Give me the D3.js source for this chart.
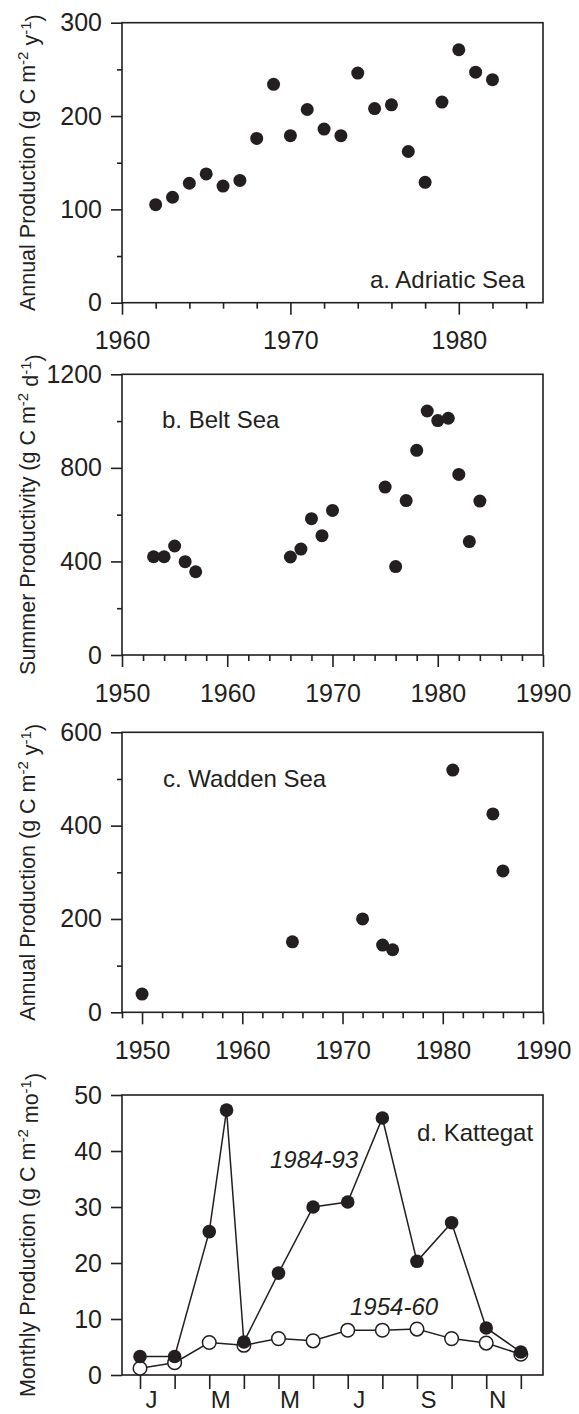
<!DOCTYPE html>
<html>
<head>
<meta charset="utf-8">
<script src="https://cdn.jsdelivr.net/npm/d3@7"></script>
<style>
  html, body { margin: 0; padding: 0; background: #fff; }
  svg { display: block; }
  text { font-family: "Liberation Sans", Arial, Helvetica, sans-serif; fill: #231f20; }
</style>
</head>
<body>
<svg id="chart" width="579" height="1414"></svg>
<script>
// ---- Panel a: Adriatic Sea, annual production
const yearsA = [1962,1963,1964,1965,1966,1967,1968,1969,1970,1971,1972,1973,1974,1975,1976,1977,1978,1979,1980,1981,1982];
const prodA  = [105,113,128,138,125,131,176,234,179,207,186,179,246,208,212,162,129,215,271,247,239];

// ---- Panel b: Belt Sea, summer productivity
const yearsB = [1953,1954,1955,1956,1957,1966,1967,1968,1969,1970,1975,1976,1977,1978,1979,1980,1981,1982,1983,1984];
const prodB  = [420,420,466,399,356,419,453,583,510,618,718,378,660,875,1043,1002,1012,772,485,658];

// ---- Panel c: Wadden Sea, annual production
const yearsC = [1950,1965,1972,1974,1975,1981,1985,1986];
const prodC  = [39,151,200,144,134,519,425,303];

// ---- Panel d: Kattegat, monthly production
const monthsRecent = [1,2,3,3.5,4,5,6,7,8,9,10,11,12];
const prodRecent   = [3.3,3.3,25.6,47.3,5.9,18.2,30.0,30.9,45.9,20.3,27.2,8.4,4.1];
const monthsEarly  = [1,2,3,4,5,6,7,8,9,10,11,12];
const prodEarly    = [1.2,2.2,5.8,5.3,6.5,6.1,8.0,8.0,8.2,6.5,5.7,3.7];
const monthTicks   = [1,2,3,4,5,6,7,8,9,10,11,12];
const monthLabels  = ["J","","M","","M","","J","","S","","N",""];

// ---- Tick values
const ticksAY = [0,100,200,300],      minorAY = [50,150,250];
const ticksBY = [0,400,800,1200],     minorBY = [200,600,1000];
const ticksCY = [0,200,400,600],      minorCY = [100,300,500];
const ticksDY = [0,10,20,30,40,50];
const ticksAX = [1960,1970,1980],     minorAX = d3.range(1962,1985,2).filter(v => v % 10);
const ticksBX = [1950,1960,1970,1980,1990], minorBX = d3.range(1952,1990,2).filter(v => v % 10);
const ticksCX = [1950,1960,1970,1980,1990], minorCX = d3.range(1948,1990,2).filter(v => v % 10);

const INK = "#231f20";
const svg = d3.select("#chart");
const left = 122, right = 543;

function title(g, cy, main, unit) {
  const t = g.append("text")
    .attr("transform", `translate(35,${cy}) rotate(-90)`)
    .attr("text-anchor", "middle")
    .style("font-size", "21.5px");
  t.append("tspan").text(main + " (g C m");
  t.append("tspan").attr("dy", "-0.45em").style("font-size", "15px").text("-2");
  t.append("tspan").attr("dy", "0.45em").text(" " + unit);
  t.append("tspan").attr("dy", "-0.45em").style("font-size", "15px").text("-1");
  t.append("tspan").attr("dy", "0.45em").text(")");
}

function styleAxis(g, size) {
  g.select(".domain").remove();
  g.selectAll("line").attr("stroke", INK).attr("stroke-width", 1.6);
  g.selectAll("text").style("font-size", (size || 25) + "px").attr("fill", INK)
    .style("font-family", '"Liberation Sans", Arial, Helvetica, sans-serif');
}

function panel(cfg) {
  const g = svg.append("g");
  const x = d3.scaleLinear().domain(cfg.xDomain).range([left, right]);
  const y = d3.scaleLinear().domain(cfg.yDomain).range([cfg.bottom, cfg.top]);

  // y axis: major and minor ticks
  g.append("g").attr("transform", `translate(${left},0)`)
    .call(d3.axisLeft(y).tickValues(cfg.yTicks).tickSize(11).tickPadding(9).tickFormat(d3.format("d")))
    .call(styleAxis);
  if (cfg.yMinor) {
    g.append("g").attr("transform", `translate(${left},0)`)
      .call(d3.axisLeft(y).tickValues(cfg.yMinor).tickSize(5).tickFormat(""))
      .call(styleAxis);
  }
  // x axis: major and minor ticks
  if (cfg.xTicks) {
    g.append("g").attr("transform", `translate(0,${cfg.bottom})`)
      .call(d3.axisBottom(x).tickValues(cfg.xTicks).tickSize(12).tickPadding(17).tickFormat(d3.format("d")))
      .call(styleAxis);
    g.append("g").attr("transform", `translate(0,${cfg.bottom})`)
      .call(d3.axisBottom(x).tickValues(cfg.xMinor).tickSize(6).tickFormat(""))
      .call(styleAxis);
  }

  // plot frame
  g.append("rect")
    .attr("x", left).attr("y", cfg.top)
    .attr("width", right - left).attr("height", cfg.bottom - cfg.top)
    .attr("fill", "none").attr("stroke", INK).attr("stroke-width", 1.6);

  title(g, (cfg.top + cfg.bottom) / 2, cfg.title, cfg.unit);
  return { g, x, y };
}

function scatter(p, xs, ys) {
  p.g.append("g").selectAll("circle")
    .data(xs.map((d, i) => [d, ys[i]]))
    .join("circle")
    .attr("cx", d => p.x(d[0])).attr("cy", d => p.y(d[1]))
    .attr("r", 6.5).attr("fill", INK);
}

function label(p, x, y, txt, italic) {
  p.g.append("text").attr("x", x).attr("y", y)
    .style("font-size", "24px")
    .style("font-style", italic ? "italic" : "normal")
    .text(txt);
}

// a. Adriatic Sea
const pa = panel({ xDomain: [1960, 1985], yDomain: [0, 300], top: 22.7, bottom: 302.7,
  yTicks: ticksAY, yMinor: minorAY, xTicks: ticksAX, xMinor: minorAX,
  title: "Annual Production", unit: "y" });
scatter(pa, yearsA, prodA);
label(pa, 370, 288, "a. Adriatic Sea");

// b. Belt Sea
const pb = panel({ xDomain: [1950, 1990], yDomain: [0, 1200], top: 374.3, bottom: 655,
  yTicks: ticksBY, yMinor: minorBY, xTicks: ticksBX, xMinor: minorBX,
  title: "Summer Productivity", unit: "d" });
scatter(pb, yearsB, prodB);
label(pb, 162, 428, "b. Belt Sea");

// c. Wadden Sea
const pc = panel({ xDomain: [1948, 1990], yDomain: [0, 600], top: 732.3, bottom: 1012.3,
  yTicks: ticksCY, yMinor: minorCY, xTicks: ticksCX, xMinor: minorCX,
  title: "Annual Production", unit: "y" });
scatter(pc, yearsC, prodC);
label(pc, 163, 787, "c. Wadden Sea");

// d. Kattegat — monthly series, month axis drawn separately
const pd = panel({ xDomain: [0.48, 12.64], yDomain: [0, 50], top: 1095, bottom: 1375,
  yTicks: ticksDY, title: "Monthly Production", unit: "mo" });

const monthAxis = pd.g.append("g").attr("transform", `translate(0,${1375})`)
  .call(d3.axisBottom(pd.x).tickValues(monthTicks).tickSize(14).tickPadding(2)
    .tickFormat((d, i) => monthLabels[i]))
  .call(styleAxis, 24);
monthAxis.selectAll("text").attr("dx", 11);

const line = d3.line().x(d => pd.x(d[0])).y(d => pd.y(d[1]));
const early  = monthsEarly.map((m, i) => [m, prodEarly[i]]);
const recent = monthsRecent.map((m, i) => [m, prodRecent[i]]);

pd.g.append("path").datum(early).attr("d", line)
  .attr("fill", "none").attr("stroke", INK).attr("stroke-width", 1.5);
pd.g.append("g").selectAll("circle").data(early).join("circle")
  .attr("cx", d => pd.x(d[0])).attr("cy", d => pd.y(d[1])).attr("r", 6.8)
  .attr("fill", "#fff").attr("stroke", INK).attr("stroke-width", 1.5);

pd.g.append("path").datum(recent).attr("d", line)
  .attr("fill", "none").attr("stroke", INK).attr("stroke-width", 1.5);
pd.g.append("g").selectAll("circle").data(recent).join("circle")
  .attr("cx", d => pd.x(d[0])).attr("cy", d => pd.y(d[1])).attr("r", 6.8)
  .attr("fill", INK);

label(pd, 417, 1141, "d. Kattegat");
label(pd, 270, 1168, "1984-93", true);
label(pd, 350, 1315, "1954-60", true);
</script>
</body>
</html>
